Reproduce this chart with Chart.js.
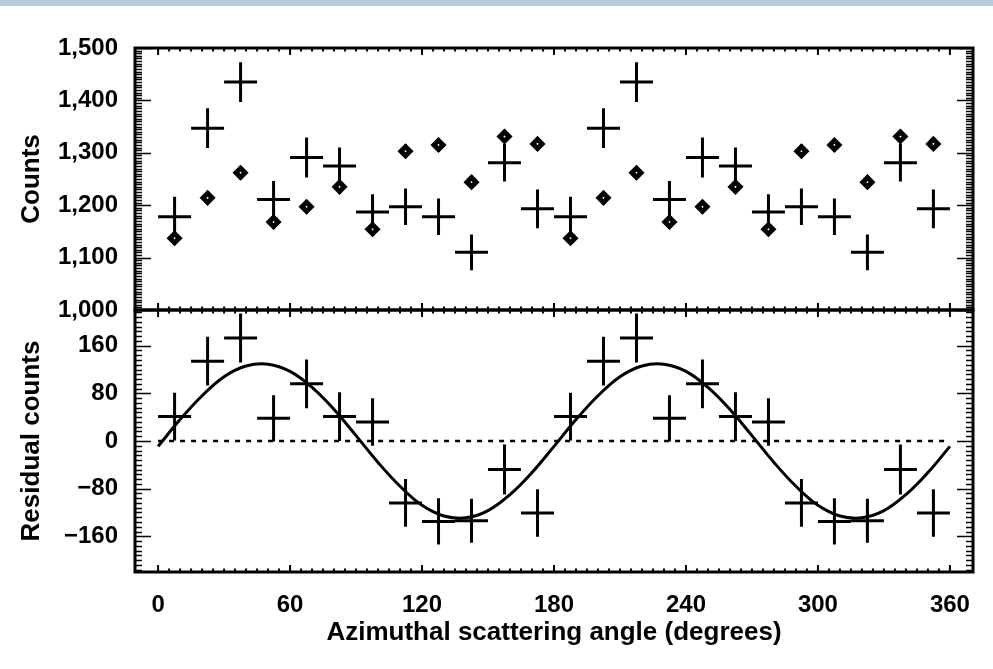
<!DOCTYPE html>
<html>
<head>
<meta charset="utf-8">
<script src="https://cdn.jsdelivr.net/npm/chart.js@4/dist/chart.umd.min.js"></script>
<style>
html,body{margin:0;padding:0;background:#fff;}
#wrap{position:relative;width:993px;height:669px;overflow:hidden;}
#band{position:absolute;left:0;top:0;width:993px;height:6px;background:#b7cbdb;}
canvas{position:absolute;left:0;top:0;}
</style>
</head>
<body>
<div id="wrap"><canvas id="c" width="993" height="669"></canvas><div id="band"></div></div>
<script>
// ---------------- data ----------------
const angles = [7.5, 22.5, 37.5, 52.5, 67.5, 82.5, 97.5, 112.5, 127.5, 142.5, 157.5, 172.5,
                187.5, 202.5, 217.5, 232.5, 247.5, 262.5, 277.5, 292.5, 307.5, 322.5, 337.5, 352.5];
const binHalfWidth = 7.5;

const counts = [1178, 1347, 1435, 1211, 1291, 1275, 1187, 1197, 1178, 1110, 1281, 1193,
                1178, 1347, 1435, 1211, 1291, 1275, 1187, 1197, 1178, 1110, 1281, 1193];
const countErr = [38, 38, 38, 35, 38, 35, 34, 35, 35, 34, 36, 37,
                  38, 38, 38, 35, 38, 35, 34, 35, 35, 34, 36, 37];

const model = [1137, 1214, 1262, 1168, 1197, 1235, 1154, 1303, 1315, 1244, 1331, 1317,
               1137, 1214, 1262, 1168, 1197, 1235, 1154, 1303, 1315, 1244, 1331, 1317];
const modelErr = [13, 13, 13, 13, 13, 13, 13, 13, 13, 13, 13, 13,
                  13, 13, 13, 13, 13, 13, 13, 13, 13, 13, 13, 13];

const residuals = [41, 134, 173, 38, 96, 41, 32, -104, -135, -134, -48, -121,
                   41, 134, 173, 38, 96, 41, 32, -104, -135, -134, -48, -121];
const residualErr = [40, 41, 41, 39, 41, 41, 40, 40, 39, 37, 42, 40,
                     40, 41, 41, 39, 41, 41, 40, 40, 39, 37, 42, 40];

const fitAngles = [0, 10, 20, 30, 40, 50, 60, 70, 80, 90, 100, 110, 120, 130, 140, 150, 160, 170, 180,
                   190, 200, 210, 220, 230, 240, 250, 260, 270, 280, 290, 300, 310, 320, 330, 340, 350, 360];
const fitValues = [-9, 36, 76, 108, 126, 129, 117, 90, 53, 9, -36, -76, -108, -126, -129, -117, -90, -53, -9,
                   36, 76, 108, 126, 129, 117, 90, 53, 9, -36, -76, -108, -126, -129, -117, -90, -53, -9];

const zeroLineX = [0, 360];
const zeroLineY = [0, 0];

const xTicks = [0, 60, 120, 180, 240, 300, 360];
const xTickLabels = ['0', '60', '120', '180', '240', '300', '360'];
const countTicks = [1000, 1100, 1200, 1300, 1400, 1500];
const countTickLabels = ['1,000', '1,100', '1,200', '1,300', '1,400', '1,500'];
const residualTicks = [-160, -80, 0, 80, 160];
const residualTickLabels = ['\u2212160', '\u221280', '0', '80', '160'];

// ---------------- styling ----------------
const FONT = '"Liberation Sans", Arial, Helvetica, sans-serif';
const tickFont = {family: FONT, size: 24, weight: 'bold'};
const titleFont = {family: FONT, size: 26, weight: 'bold'};

const toXY = (xs, ys) => xs.map((x, i) => ({x: x, y: ys[i]}));

// error bars / bin-width crosses (drawn under the point markers)
const errorBars = {
  id: 'errorBars',
  beforeDatasetsDraw(chart) {
    const ctx = chart.ctx;
    const xs = chart.scales.x;
    chart.data.datasets.forEach((ds, di) => {
      if (!ds.yErrors) return;
      const meta = chart.getDatasetMeta(di);
      const ys = chart.scales[ds.yAxisID];
      ctx.save();
      ctx.strokeStyle = '#000';
      ctx.lineWidth = ds.errLineWidth || 3;
      ctx.lineCap = 'butt';
      meta.data.forEach((pt, i) => {
        const d = ds.data[i];
        const e = ds.yErrors[i];
        ctx.beginPath();
        ctx.moveTo(pt.x, ys.getPixelForValue(d.y + e));
        ctx.lineTo(pt.x, ys.getPixelForValue(d.y - e));
        if (ds.xHalfWidth) {
          ctx.moveTo(xs.getPixelForValue(d.x - ds.xHalfWidth), pt.y);
          ctx.lineTo(xs.getPixelForValue(d.x + ds.xHalfWidth), pt.y);
        }
        ctx.stroke();
      });
      ctx.restore();
    });
  }
};

// IDL-style frames with inward ticks on all four sides of each panel
const frames = {
  id: 'frames',
  afterDatasetsDraw(chart) {
    const ctx = chart.ctx;
    const xs = chart.scales.x;
    const panels = [
      {s: chart.scales.yC, major: countTicks, minor: 5},
      {s: chart.scales.yR, major: residualTicks, minor: 8}
    ];
    const L = xs.left, R = xs.right;
    ctx.save();
    ctx.strokeStyle = '#000';
    ctx.lineCap = 'butt';
    panels.forEach(p => {
      const T = p.s.top, B = p.s.bottom;
      ctx.lineWidth = 2;
      ctx.beginPath();
      for (let v = xTicks[0]; v <= xTicks[xTicks.length - 1] + 1e-9; v += 5) {
        const px = xs.getPixelForValue(v);
        const len = xTicks.includes(v) ? 7 : 3.5;
        ctx.moveTo(px, B); ctx.lineTo(px, B - len);
        ctx.moveTo(px, T); ctx.lineTo(px, T + len);
      }
      ctx.stroke();
      ctx.lineWidth = 1.6;
      ctx.beginPath();
      const vmin = Math.ceil(p.s.min / p.minor) * p.minor;
      for (let v = vmin; v <= p.s.max + 1e-9; v += p.minor) {
        const py = Math.round(p.s.getPixelForValue(v)) + 0.5;
        const len = p.major.includes(v) ? 16 : 7;
        ctx.moveTo(L, py); ctx.lineTo(L + len, py);
        ctx.moveTo(R, py); ctx.lineTo(R - len, py);
      }
      ctx.stroke();
      ctx.lineWidth = 3;
      ctx.strokeRect(L, T, R - L, B - T);
    });
    ctx.restore();
  }
};

const chart = new Chart(document.getElementById('c'), {
  type: 'scatter',
  data: {
    datasets: [
      {
        label: 'Counts',
        data: toXY(angles, counts),
        yAxisID: 'yC',
        pointRadius: 0,
        yErrors: countErr,
        xHalfWidth: binHalfWidth,
        errLineWidth: 3
      },
      {
        label: 'Model',
        data: toXY(angles, model),
        yAxisID: 'yC',
        pointStyle: 'rectRot',
        pointRadius: 4.6,
        pointBorderWidth: 4.9,
        pointBackgroundColor: '#fff',
        pointBorderColor: '#000',
        yErrors: modelErr,
        errLineWidth: 3
      },
      {
        label: 'Residual',
        data: toXY(angles, residuals),
        yAxisID: 'yR',
        pointRadius: 0,
        yErrors: residualErr,
        xHalfWidth: binHalfWidth,
        errLineWidth: 3
      },
      {
        label: 'Fit',
        data: toXY(fitAngles, fitValues),
        yAxisID: 'yR',
        showLine: true,
        pointRadius: 0,
        borderColor: '#000',
        borderWidth: 3,
        tension: 0.4
      },
      {
        label: 'Zero',
        data: toXY(zeroLineX, zeroLineY),
        yAxisID: 'yR',
        showLine: true,
        pointRadius: 0,
        borderColor: '#000',
        borderWidth: 2.5,
        borderDash: [5, 6]
      }
    ]
  },
  options: {
    responsive: false,
    animation: false,
    devicePixelRatio: 1,
    layout: {padding: {top: 48, right: 20, bottom: 0, left: 0}},
    plugins: {legend: {display: false}, tooltip: {enabled: false}},
    scales: {
      x: {
        type: 'linear', position: 'bottom', min: -10.5, max: 370.5,
        afterBuildTicks: s => { s.ticks = xTicks.map(v => ({value: v})); },
        ticks: {autoSkip: false, maxRotation: 0, padding: 19, color: '#000', font: tickFont,
                callback: v => xTickLabels[xTicks.indexOf(v)]},
        grid: {display: false, drawTicks: false},
        border: {display: false},
        title: {display: true, text: 'Azimuthal scattering angle (degrees)', color: '#000', font: titleFont,
                padding: {top: 0, bottom: 21}},
        afterFit: s => { s.height = 97; }
      },
      yR: {
        type: 'linear', position: 'left', stack: 'panels', stackWeight: 1, weight: 1,
        min: -220, max: 220,
        afterBuildTicks: s => { s.ticks = residualTicks.map(v => ({value: v})); },
        ticks: {autoSkip: false, padding: 17, color: '#000', font: tickFont,
                callback: v => residualTickLabels[residualTicks.indexOf(v)]},
        grid: {display: false, drawTicks: false},
        border: {display: false},
        title: {display: true, text: 'Residual counts', color: '#000', font: titleFont,
                padding: {top: 16, bottom: 0}},
        afterFit: s => { s.width = 135; }
      },
      yC: {
        type: 'linear', position: 'left', stack: 'panels', stackWeight: 1, weight: 2,
        min: 1000, max: 1500,
        afterBuildTicks: s => { s.ticks = countTicks.map(v => ({value: v})); },
        ticks: {autoSkip: false, padding: 17, color: '#000', font: tickFont,
                callback: v => countTickLabels[countTicks.indexOf(v)]},
        grid: {display: false, drawTicks: false},
        border: {display: false},
        title: {display: true, text: 'Counts', color: '#000', font: titleFont,
                padding: {top: 16, bottom: 0}},
        afterFit: s => { s.width = 135; }
      }
    }
  },
  plugins: [errorBars, frames]
});
</script>
</body>
</html>
